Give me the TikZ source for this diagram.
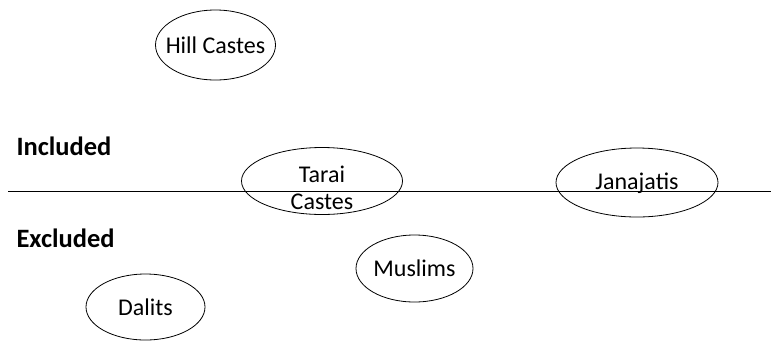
\documentclass[tikz,border=0pt]{standalone}
\usepackage{fontspec}
\setmainfont{Carlito}
\usetikzlibrary{shapes.geometric}
\begin{document}
\begin{tikzpicture}[x=1pt,y=-1pt,
 group/.style={shape=ellipse,draw=black,line width=0.8pt,inner sep=0pt},
 grouptext/.style={align=center,inner sep=0pt,font=\fontsize{24}{27}\selectfont},
 side/.style={anchor=base west,font=\fontsize{26.5}{30}\selectfont\bfseries}]
 \useasboundingbox (0,0) rectangle (771,341);
 \coordinate (line left) at (8,191);
 \coordinate (line right) at (771,191);
 \draw[line width=0.8pt] (line left) -- (line right);
 \node (incl) at (13,155) [side] {Included};
 \node (excl) at (13,247) [side] {Excluded};
 \node (hill) at (215.5,45) [group,minimum width=120pt,minimum height=70pt,label={[grouptext]center:Hill Castes}] {};
 \node (tarai) at (322,181) [group,minimum width=161pt,minimum height=67pt,label={[grouptext,yshift=-7pt]center:Tarai\\Castes}] {};
 \node (jana) at (637,182.5) [group,minimum width=162pt,minimum height=69pt,label={[grouptext,yshift=-1pt]center:Janajatis}] {};
 \node (musl) at (414.5,268.5) [group,minimum width=117pt,minimum height=67pt,label={[grouptext]center:Muslims}] {};
 \node (dalit) at (145.5,307) [group,minimum width=119pt,minimum height=66pt,label={[grouptext]center:Dalits}] {};
\end{tikzpicture}
\end{document}
